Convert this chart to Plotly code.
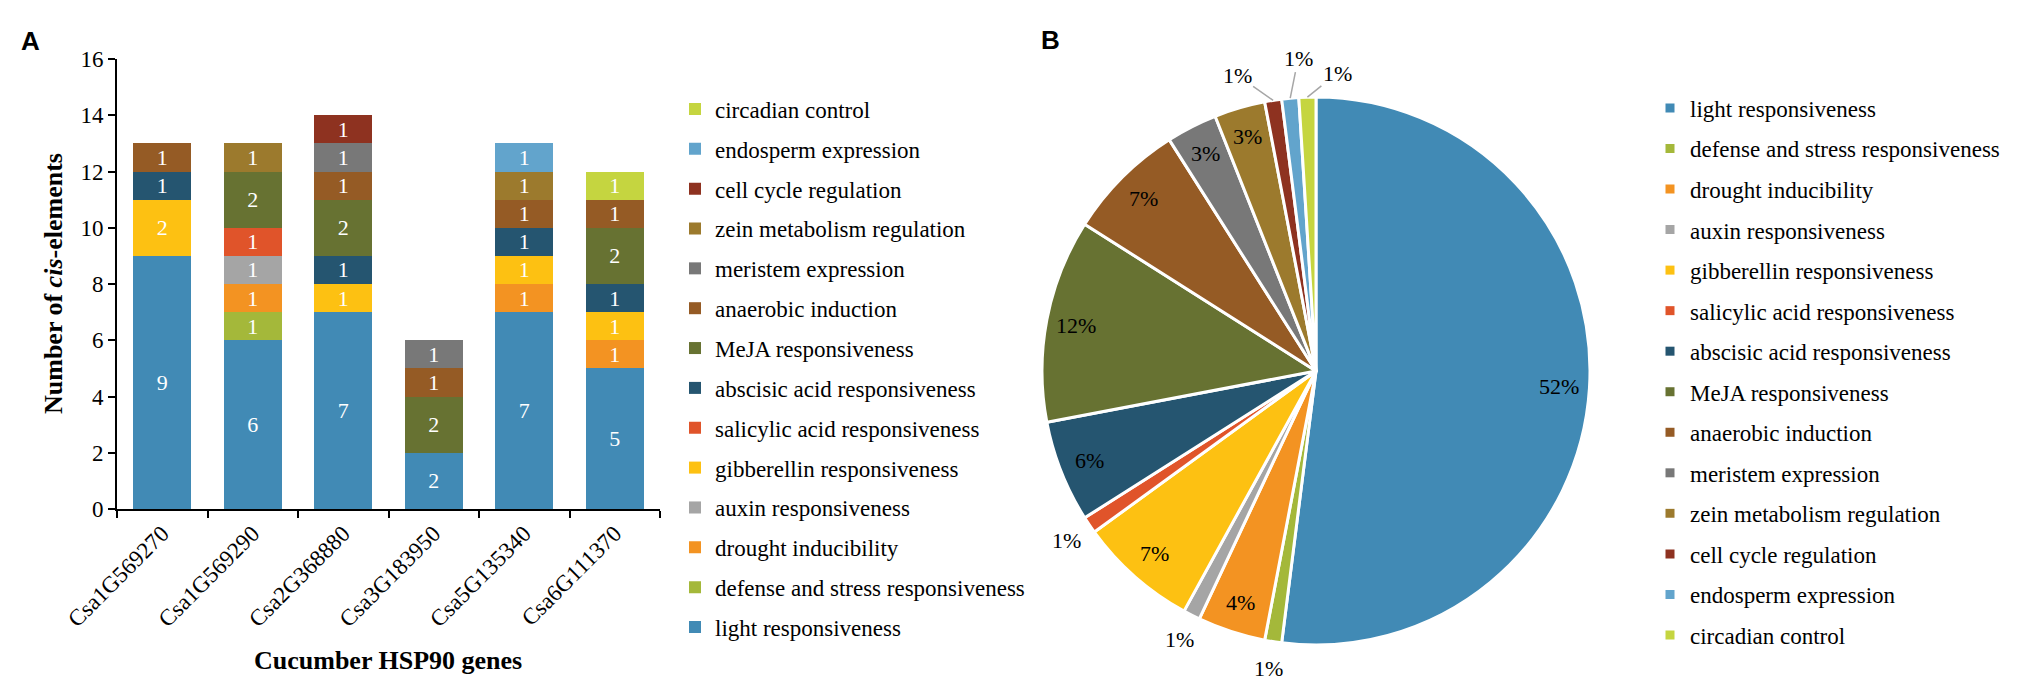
import math
import plotly.graph_objects as go

W, H = 2033, 696

genes = ["Csa1G569270", "Csa1G569290", "Csa2G368880", "Csa3G183950", "Csa5G135340", "Csa6G111370"]

categories = [
    "light responsiveness",
    "defense and stress responsiveness",
    "drought inducibility",
    "auxin responsiveness",
    "gibberellin responsiveness",
    "salicylic acid responsiveness",
    "abscisic acid responsiveness",
    "MeJA responsiveness",
    "anaerobic induction",
    "meristem expression",
    "zein metabolism regulation",
    "cell cycle regulation",
    "endosperm expression",
    "circadian control",
]

colors = [
    "#418AB5", "#A4B83A", "#F39322", "#A5A5A5", "#FDC112", "#E0542A", "#255570",
    "#677232", "#955B25", "#787878", "#9C7A2D", "#8E3220", "#62A4CC", "#C5D540",
]

# counts per category, one value per gene (bottom to top stacking order)
light = [9, 6, 7, 2, 7, 5]
defense = [0, 1, 0, 0, 0, 0]
drought = [0, 1, 0, 0, 1, 1]
auxin = [0, 1, 0, 0, 0, 0]
gibberellin = [2, 0, 1, 0, 1, 1]
salicylic = [0, 1, 0, 0, 0, 0]
abscisic = [1, 0, 1, 0, 1, 1]
meja = [0, 2, 2, 2, 0, 2]
anaerobic = [1, 0, 1, 1, 1, 1]
meristem = [0, 0, 1, 1, 0, 0]
zein = [0, 1, 0, 0, 1, 0]
cell_cycle = [0, 0, 1, 0, 0, 0]
endosperm = [0, 0, 0, 0, 1, 0]
circadian = [0, 0, 0, 0, 0, 1]

series = [light, defense, drought, auxin, gibberellin, salicylic, abscisic,
          meja, anaerobic, meristem, zein, cell_cycle, endosperm, circadian]

# pie percentages as labelled
pie_percent = [52, 1, 4, 1, 7, 1, 6, 12, 7, 3, 3, 1, 1, 1]

y_ticks = [0, 2, 4, 6, 8, 10, 12, 14, 16]

SERIF = "Liberation Serif"

# pie geometry (pixels)
PCX, PCY, PR = 1316, 371, 274

fig = go.Figure()

n = len(categories)
for i, (name, vals, col) in enumerate(zip(categories, series, colors)):
    yv = [v if v > 0 else None for v in vals]
    fig.add_trace(go.Bar(
        x=genes, y=yv, name=name, marker=dict(color=col, line=dict(width=0)),
        texttemplate="%{y}", textposition="inside", insidetextanchor="middle",
        textangle=0, constraintext="none",
        textfont=dict(family=SERIF, size=22, color="white"),
        legend="legend", legendgroup=name, legendrank=100 + n - i, hoverinfo="skip",
    ))

fig.add_trace(go.Pie(
    labels=categories, values=pie_percent, sort=False, direction="clockwise", rotation=0,
    marker=dict(colors=colors, line=dict(color="white", width=3)),
    textinfo="none", showlegend=False, automargin=False, hoverinfo="skip",
    domain=dict(x=[(PCX - PR) / W, (PCX + PR) / W], y=[1 - (PCY + PR) / H, 1 - (PCY - PR) / H]),
))

# legend entries for the pie
for i, (name, col) in enumerate(zip(categories, colors)):
    fig.add_trace(go.Scatter(
        x=[None], y=[None], mode="markers", name=name,
        marker=dict(symbol="square", size=9, color=col),
        legend="legend2", legendgroup="p_" + name, legendrank=100 + i,
        showlegend=True, hoverinfo="skip",
    ))

# pie percentage labels, positioned from each slice's mid-angle
total = sum(pie_percent)
annotations = []
leader_offsets = {11: (-36, -25), 12: (8, -40), 13: (30, -24)}
cum = 0
for i, p in enumerate(pie_percent):
    mid = (cum + p / 2) / total * 2 * math.pi
    cum += p
    txt = f"{round(p / total * 100)}%"
    sx, sy = math.sin(mid), math.cos(mid)
    if i in leader_offsets:
        ex, ey = PCX + PR * sx, PCY - PR * sy
        ax, ay = leader_offsets[i]
        annotations.append(dict(
            text=txt, x=ex / W, y=1 - ey / H, xref="paper", yref="paper",
            showarrow=True, arrowhead=0, arrowwidth=1.5, arrowcolor="#A6A6A6",
            ax=ax, ay=ay, standoff=0, startstandoff=0,
            font=dict(family=SERIF, size=22, color="black"),
        ))
    else:
        f = 0.89 if p > 1 else 1.1
        px_, py_ = PCX + f * PR * sx, PCY - f * PR * sy
        annotations.append(dict(
            text=txt, x=px_ / W, y=1 - py_ / H, xref="paper", yref="paper",
            showarrow=False, xanchor="center", yanchor="middle",
            font=dict(family=SERIF, size=22, color="black"),
        ))

annotations += [
    dict(text="<b>Number of <i>cis</i>-elements</b>", x=53 / W, y=1 - 284 / H,
         xref="paper", yref="paper", showarrow=False, textangle=-90,
         font=dict(family=SERIF, size=26, color="black"), xanchor="center", yanchor="middle"),
    dict(text="<b>Cucumber HSP90 genes</b>", x=388 / W, y=1 - 660 / H,
         xref="paper", yref="paper", showarrow=False,
         font=dict(family=SERIF, size=26, color="black"), xanchor="center", yanchor="middle"),
    dict(text="<b>A</b>", x=30 / W, y=1 - 41 / H, xref="paper", yref="paper", showarrow=False,
         font=dict(family="Liberation Sans", size=26, color="black"), xanchor="center", yanchor="middle"),
    dict(text="<b>B</b>", x=1050 / W, y=1 - 40 / H, xref="paper", yref="paper", showarrow=False,
         font=dict(family="Liberation Sans", size=26, color="black"), xanchor="center", yanchor="middle"),
]

fig.update_layout(
    width=W, height=H,
    margin=dict(l=0, r=0, t=0, b=0),
    paper_bgcolor="white", plot_bgcolor="white",
    barmode="stack", bargap=0.36,
    font=dict(family=SERIF, size=22, color="black"),
    xaxis=dict(
        domain=[117 / W, 660 / W], categoryorder="array", categoryarray=genes,
        showline=True, linecolor="black", linewidth=2, ticks="outside", ticklen=7,
        tickwidth=2, tickcolor="black", tickson="boundaries", tickangle=-45,
        tickfont=dict(family=SERIF, size=23, color="black"), showgrid=False,
        zeroline=False, automargin=False, fixedrange=True,
    ),
    yaxis=dict(
        domain=[1 - 509 / H, 1 - 59 / H], range=[0, 16], tickvals=y_ticks,
        showline=True, linecolor="black", linewidth=2, ticks="outside", ticklen=7,
        tickwidth=2, tickcolor="black", showgrid=False, zeroline=False,
        tickfont=dict(family=SERIF, size=23, color="black"), automargin=False,
    ),
    legend=dict(
        x=(715 - 40) / W, y=1 - 87.5 / H, xanchor="left", yanchor="top",
        traceorder="grouped", tracegroupgap=6.95,
        font=dict(family=SERIF, size=23, color="black"), bgcolor="rgba(0,0,0,0)",
        itemclick=False, itemdoubleclick=False,
    ),
    legend2=dict(
        x=(1690 - 40) / W, y=1 - 86.5 / H, xanchor="left", yanchor="top",
        traceorder="grouped", tracegroupgap=7.64,
        font=dict(family=SERIF, size=23, color="black"), bgcolor="rgba(0,0,0,0)",
        itemsizing="trace", itemclick=False, itemdoubleclick=False,
    ),
    annotations=annotations,
)

fig.write_html("out.html", config={"displayModeBar": False},
               post_script="document.body.style.margin='0';")
